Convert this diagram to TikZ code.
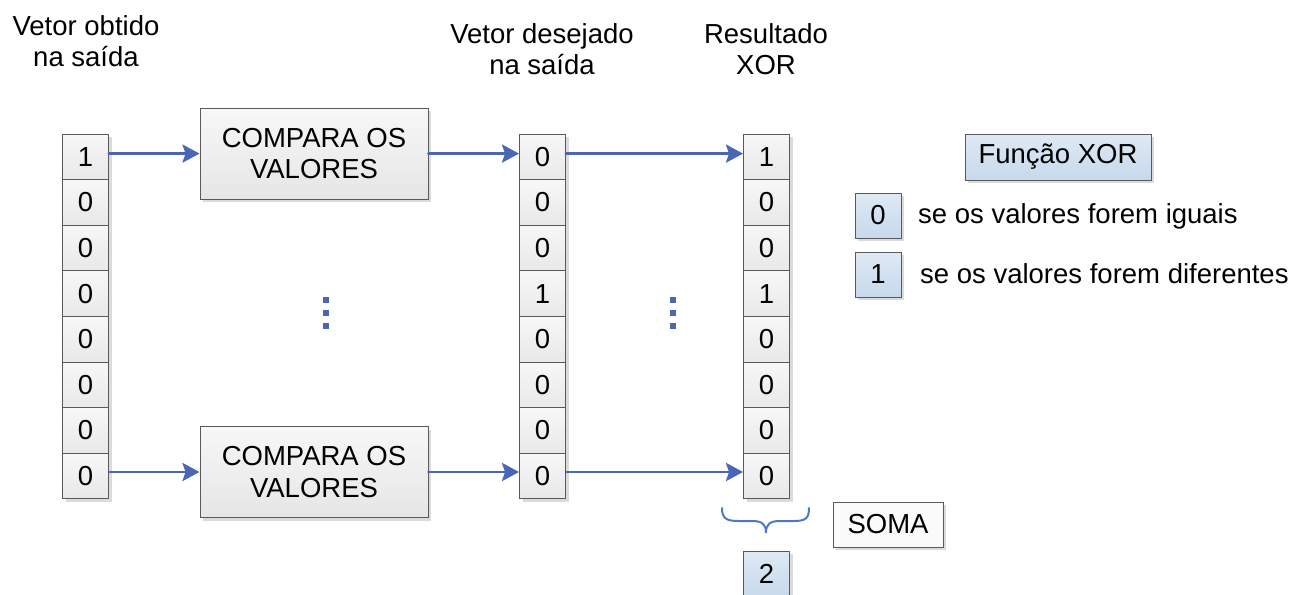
\documentclass[tikz,border=0pt]{standalone}
\usepackage{fontspec}
\setmainfont{Liberation Sans}
\usetikzlibrary{arrows.meta,shadows}
\definecolor{linkblue}{HTML}{4A66B5}
\definecolor{bracecol}{HTML}{4F77C8}
\definecolor{edgegray}{HTML}{5A5A5A}
\definecolor{bluetop}{HTML}{DFE9F4}
\definecolor{bluebot}{HTML}{C6D9EC}

\begin{document}
\begin{tikzpicture}[x=1pt,y=-1pt,
  every node/.style={font=\fontsize{27.5}{31.5}\selectfont, inner sep=0pt},
  boxshadow/.style={drop shadow={shadow xshift=3pt,shadow yshift=-3pt,fill=black!14,opacity=1}},
  cell/.style={draw=edgegray, line width=0.9pt, top color=white!97!black,
    bottom color=white!91!black, minimum width=46pt, minimum height=45.6pt, boxshadow},
  procbox/.style={draw=edgegray, line width=0.9pt, top color=white!97!black,
    bottom color=white!90!black, minimum width=228pt, minimum height=91pt,
    align=center, boxshadow},
  bluebox/.style={draw=edgegray, line width=0.9pt, top color=bluetop,
    bottom color=bluebot, minimum width=46pt, minimum height=45.6pt, boxshadow},
  plainbox/.style={draw=edgegray, line width=0.9pt, fill=white!98!black,
    minimum width=110pt, minimum height=45pt, boxshadow},
  link/.style={draw=linkblue, line width=2.9pt, line cap=round,
    -{Stealth[length=17pt,width=18pt,inset=3pt]}},
  dot/.style={fill=linkblue}
]
\useasboundingbox (0,0) rectangle (1292,594);

% column headings
\node[anchor=north, align=center] (t1) at (86,15) {Vetor obtido\\na saída};
\node[anchor=north, align=center] (t2) at (542,23) {Vetor desejado\\na saída};
\node[anchor=north, align=center] (t3) at (766,23) {Resultado\\XOR};

% the three bit vectors
\foreach \v [count=\i from 0] in {1,0,0,0,0,0,0,0}
  \node[cell] (L\i) at (85.5,{156.8+45.6*\i}) {\v};
\foreach \v [count=\i from 0] in {0,0,0,1,0,0,0,0}
  \node[cell] (M\i) at (542.5,{156.8+45.6*\i}) {\v};
\foreach \v [count=\i from 0] in {1,0,0,1,0,0,0,0}
  \node[cell] (R\i) at (766.5,{156.8+45.6*\i}) {\v};

% comparison blocks
\node[procbox] (C1) at (314,153.6) {COMPARA OS\\VALORES};
\node[procbox] (C2) at (314,472) {COMPARA OS\\VALORES};

% connectors
\draw[link] (L0.east |- C1.west) -- (C1.west);
\draw[link] (C1.east) -- (M0.west |- C1.east);
\draw[link] (M0.east |- C1.east) -- (R0.west |- C1.east);
\draw[link] (L7.east |- C2.west) -- (C2.west);
\draw[link] (C2.east) -- (M7.west |- C2.east);
\draw[link] (M7.east |- C2.east) -- (R7.west |- C2.east);

% vertical ellipses
\foreach \yy in {297,310,323} {
  \fill[dot] (323,\yy) rectangle ++(6,6);
  \fill[dot] (670,\yy) rectangle ++(6,6);
}

% legend of the XOR function
\node[bluebox, minimum width=186pt, minimum height=46pt] (fx) at (1058,157) {Função XOR};
\node[bluebox, minimum height=45pt] (k0) at (878,215.5) {0};
\node[bluebox, minimum height=45pt] (k1) at (878,274.5) {1};
\node[anchor=base west] (d0) at (918,223) {se os valores forem iguais};
\node[anchor=base west] (d1) at (920,283) {se os valores forem diferentes};

% sum of the result vector
\draw[bracecol, line width=2pt, line cap=round]
  (722,508) .. controls (722,518) and (726,521) .. (738,521) -- (752,521)
  .. controls (762,521) and (766,524) .. (766,533)
  .. controls (766,524) and (770,521) .. (780,521) -- (794,521)
  .. controls (806,521) and (809,518) .. (809,508);
\node[plainbox] (soma) at (888,524.5) {SOMA};
\node[bluebox] (sum) at (766.5,573.8) {2};
\end{tikzpicture}
\end{document}
